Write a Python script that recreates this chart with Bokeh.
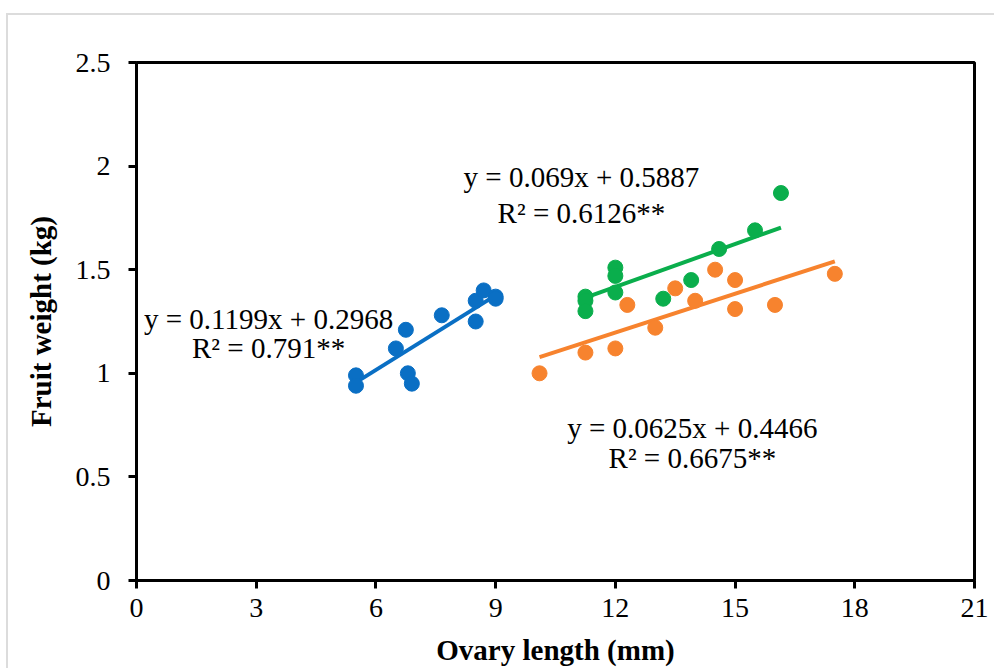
from bokeh.plotting import figure
from bokeh.models import Range1d, FixedTicker
from bokeh.core.properties import value
from bokeh.embed import file_html
from bokeh.resources import INLINE

# ---- data ----
blue_x = [5.5, 5.5, 6.5, 6.75, 6.8, 6.9, 7.65, 8.5, 8.5, 8.7, 9.0, 9.0]
blue_y = [0.99, 0.94, 1.12, 1.21, 1.00, 0.95, 1.28, 1.35, 1.25, 1.40, 1.37, 1.36]

green_x = [11.25, 11.25, 11.25, 12.0, 12.0, 12.0, 13.2, 13.9, 14.6, 15.5, 16.15]
green_y = [1.37, 1.35, 1.30, 1.51, 1.47, 1.39, 1.36, 1.45, 1.60, 1.69, 1.87]

orange_x = [10.1, 11.25, 12.0, 12.3, 13.0, 13.5, 14.0, 14.5, 15.0, 15.0, 16.0, 17.5]
orange_y = [1.00, 1.10, 1.12, 1.33, 1.22, 1.41, 1.35, 1.50, 1.45, 1.31, 1.33, 1.48]

slopes = [0.1199, 0.069, 0.0625]
intercepts = [0.2968, 0.5887, 0.4466]
eq_lines = ["y = 0.1199x + 0.2968", "y = 0.069x + 0.5887", "y = 0.0625x + 0.4466"]
r2_lines = ["R\u00b2 = 0.791**", "R\u00b2 = 0.6126**", "R\u00b2 = 0.6675**"]

x_ticks = [0, 3, 6, 9, 12, 15, 18, 21]
y_ticks = [0, 0.5, 1, 1.5, 2, 2.5]
y_tick_labels = ["0", "0.5", "1", "1.5", "2", "2.5"]

colors = ["#0A6FC4", "#0AAE4C", "#F7832E"]
FONT = "Liberation Serif"

p = figure(frame_width=838, frame_height=518, output_backend="svg", toolbar_location=None,
           x_range=Range1d(0, 21), y_range=Range1d(0, 2.5),
           min_border_left=128, min_border_top=47, min_border_right=20, min_border_bottom=88)
p.styles = {"border-left": "2px solid #dcdcdc", "border-top": "2px solid #dcdcdc",
            "margin-left": "6px", "margin-top": "13px"}

p.xgrid.visible = False
p.ygrid.visible = False
p.outline_line_color = "black"
p.outline_line_width = 3

for ax in (p.xaxis[0], p.yaxis[0]):
    ax.axis_line_width = 3
    ax.major_tick_line_width = 3
    ax.major_tick_in = 0
    ax.major_tick_out = 8
    ax.minor_tick_line_color = None
    ax.major_label_text_font = FONT
    ax.major_label_text_font_size = "28px"
    ax.major_label_text_color = "black"
    ax.axis_label_text_font = FONT
    ax.axis_label_text_font_size = "29px"
    ax.axis_label_text_font_style = "bold"
    ax.axis_label_text_color = "black"

p.xaxis.ticker = FixedTicker(ticks=x_ticks)
p.yaxis.ticker = FixedTicker(ticks=y_ticks)
p.yaxis.major_label_overrides = {t: l for t, l in zip(y_ticks, y_tick_labels)}
p.xaxis.major_label_standoff = 10
p.yaxis.major_label_standoff = 18
p.xaxis.axis_label = "Ovary length (mm)"
p.yaxis.axis_label = "Fruit weight (kg)"
p.xaxis.axis_label_standoff = 14
p.yaxis.axis_label_standoff = 16

series = [(blue_x, blue_y), (green_x, green_y), (orange_x, orange_y)]
for (xs, ys), c, m, b in zip(series, colors, slopes, intercepts):
    x0, x1 = min(xs), max(xs)
    p.line([x0, x1], [m * x0 + b, m * x1 + b], line_color=c, line_width=4)
    p.scatter(xs, ys, size=15, fill_color=c, line_color=c)

# equation label positions (layout)
label_pos = [(3.31, 1.264, 1.12), (11.15, 1.945, 1.776), (13.93, 0.738, 0.589)]
for (lx, ly1, ly2), e, r in zip(label_pos, eq_lines, r2_lines):
    p.text(x=[lx], y=[ly1], text=[e], text_align="center", text_baseline="middle",
           text_font=value(FONT), text_font_size="29px", text_color="black")
    p.text(x=[lx], y=[ly2], text=[r], text_align="center", text_baseline="middle",
           text_font=value(FONT), text_font_size="29px", text_color="black")

open("out.html", "w").write(file_html(p, INLINE))
